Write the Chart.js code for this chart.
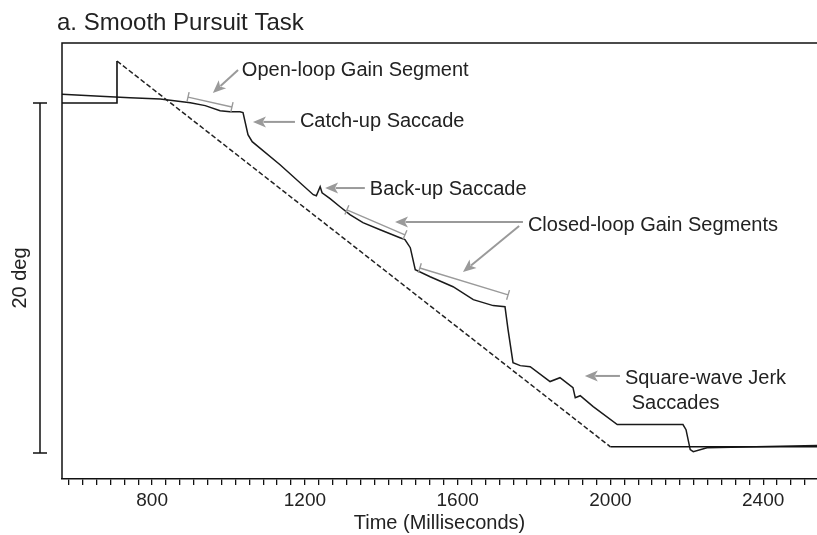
<!DOCTYPE html>
<html>
<head>
<meta charset="utf-8">
<script src="https://cdn.jsdelivr.net/npm/chart.js@4"></script>
<style>
  html, body { margin: 0; padding: 0; background: #fff; }
  #wrap { width: 817px; height: 535px; }
</style>
</head>
<body>
<div id="wrap"><canvas id="pursuit-chart" width="817" height="535"></canvas></div>
<script>
// ~~~~~~~~~~~~~~~~~~~~~~~~~~~~~~~~~~~~~~~~~~~~~~~~~~~~~~~~~~~~~~~~~~~~~~
// DATA (time in ms, position in deg)
const eyeTime = [564, 664, 742, 821, 900, 939, 978, 1004, 1030, 1038, 1051, 1062, 1135, 1222, 1230, 1240, 1245, 1266, 1292, 1318, 1352, 1397, 1449, 1462, 1476, 1489, 1528, 1588, 1641, 1693, 1724, 1732, 1745, 1764, 1790, 1842, 1868, 1902, 1908, 1921, 1955, 2018, 2190, 2198, 2209, 2217, 2253, 2541];
const eyePos = [20.5, 20.38, 20.3, 20.23, 20.02, 19.85, 19.56, 19.5, 19.5, 19.45, 18.19, 17.79, 16.47, 14.76, 14.7, 15.22, 14.87, 14.53, 14.07, 13.62, 13.16, 12.76, 12.3, 12.19, 11.73, 10.47, 10.07, 9.5, 8.76, 8.42, 8.36, 7.05, 5.16, 4.99, 4.93, 4.08, 4.3, 3.73, 3.16, 3.27, 2.65, 1.62, 1.62, 1.33, 0.19, 0.07, 0.3, 0.42];

// target: step, ramp (dashed), hold
const stepTime = [564, 708, 708];
const stepPos = [20, 20, 22.4];
const rampTime = [708, 2000];
const rampPos = [22.4, 0.35];
const holdTime = [2000, 2541];
const holdPos = [0.35, 0.35];

// gain segments [t0, p0, t1, p1]
const openLoopSeg = [894, 20.34, 1009, 19.77];
const closedLoopSegs = [[1310, 13.89, 1462, 12.46], [1501, 10.57, 1732, 9.03]];

// x axis
const tickLabels = [800, 1200, 1600, 2000, 2400];
const minorPerMajor = 11;
const xMin = 564, xMax = 2541;
const yMin = -1.49, yMax = 23.43;
const scaleBarDeg = [0, 20];

//~~~~~~~~~~~~~~~~~~~~~~~~~~~~~~~~~~~~~~~~~~~~~~~~~~~~~~~~~~~~~~~~~~~~~~~
const pts = (xs, ys) => xs.map((x, i) => ({ x: x, y: ys[i] }));
const FONT = "'Liberation Sans', Arial, sans-serif";
const INK = "#222";
const GREY = "#9a9a9a";

// annotations in data units
const arrows = [
  [1025, 21.89, 959, 20.57],
  [1174, 18.92, 1064, 18.92],
  [1357, 15.14, 1253, 15.14],
  [1771, 13.2, 1436, 13.2],
  [1761, 12.97, 1614, 10.34],
  [2025, 4.4, 1933, 4.4],
];
const labels = [
  ["Open-loop Gain Segment", 1035, 21.54],
  ["Catch-up Saccade", 1187, 18.63],
  ["Back-up Saccade", 1370, 14.74],
  ["Closed-loop Gain Segments", 1784, 12.69],
  ["Square-wave Jerk", 2038, 3.94],
  ["Saccades", 2056, 2.52],
];

const drawArrow = (ctx, x0, y0, x1, y1) => {
  const a = Math.atan2(y1 - y0, x1 - x0);
  const len = 13, hw = 5.5;
  ctx.strokeStyle = GREY;
  ctx.fillStyle = GREY;
  ctx.lineWidth = 2;
  ctx.beginPath();
  ctx.moveTo(x0, y0);
  ctx.lineTo(x1 - Math.cos(a) * len * 0.8, y1 - Math.sin(a) * len * 0.8);
  ctx.stroke();
  ctx.beginPath();
  ctx.moveTo(x1, y1);
  ctx.lineTo(x1 - Math.cos(a) * len - Math.sin(a) * hw, y1 - Math.sin(a) * len + Math.cos(a) * hw);
  ctx.lineTo(x1 - Math.cos(a) * len * 0.75, y1 - Math.sin(a) * len * 0.75);
  ctx.lineTo(x1 - Math.cos(a) * len + Math.sin(a) * hw, y1 - Math.sin(a) * len - Math.cos(a) * hw);
  ctx.closePath();
  ctx.fill();
};

const drawSegment = (ctx, x0, y0, x1, y1) => {
  const a = Math.atan2(y1 - y0, x1 - x0);
  const nx = -Math.sin(a) * 5, ny = Math.cos(a) * 5;
  ctx.strokeStyle = GREY;
  ctx.lineWidth = 1.4;
  ctx.beginPath();
  ctx.moveTo(x0, y0);
  ctx.lineTo(x1, y1);
  ctx.moveTo(x0 - nx, y0 - ny);
  ctx.lineTo(x0 + nx, y0 + ny);
  ctx.moveTo(x1 - nx, y1 - ny);
  ctx.lineTo(x1 + nx, y1 + ny);
  ctx.stroke();
};

const decorations = {
  id: "decorations",
  afterDraw(chart) {
    const ctx = chart.ctx;
    const X = (v) => chart.scales.x.getPixelForValue(v);
    const Y = (v) => chart.scales.y.getPixelForValue(v);
    const area = chart.chartArea;
    ctx.save();

    // frame: top and left
    ctx.strokeStyle = "#111";
    ctx.lineWidth = 1.5;
    ctx.beginPath();
    ctx.moveTo(area.left, area.bottom);
    ctx.lineTo(area.left, area.top);
    ctx.lineTo(area.right, area.top);
    ctx.stroke();

    // scale bar
    const bx = 40;
    const b0 = Y(scaleBarDeg[0]), b1 = Y(scaleBarDeg[1]);
    ctx.beginPath();
    ctx.moveTo(bx, b0);
    ctx.lineTo(bx, b1);
    ctx.moveTo(bx - 7, b0);
    ctx.lineTo(bx + 7, b0);
    ctx.moveTo(bx - 7, b1);
    ctx.lineTo(bx + 7, b1);
    ctx.stroke();

    ctx.fillStyle = INK;
    ctx.font = "20px " + FONT;
    ctx.save();
    ctx.translate(20, (b0 + b1) / 2);
    ctx.rotate(-Math.PI / 2);
    ctx.textAlign = "center";
    ctx.textBaseline = "middle";
    ctx.fillText("20 deg", 0, 0);
    ctx.restore();

    // title
    ctx.font = "24px " + FONT;
    ctx.textAlign = "left";
    ctx.textBaseline = "alphabetic";
    ctx.fillText("a. Smooth Pursuit Task", 57, 30);

    // gain segments
    drawSegment(ctx, X(openLoopSeg[0]), Y(openLoopSeg[1]), X(openLoopSeg[2]), Y(openLoopSeg[3]));
    closedLoopSegs.forEach((s) => drawSegment(ctx, X(s[0]), Y(s[1]), X(s[2]), Y(s[3])));

    // arrows
    arrows.forEach((a) => drawArrow(ctx, X(a[0]), Y(a[1]), X(a[2]), Y(a[3])));

    // annotation text
    ctx.fillStyle = INK;
    ctx.font = "20px " + FONT;
    labels.forEach((l) => ctx.fillText(l[0], X(l[1]), Y(l[2])));

    ctx.restore();
  },
};

Chart.defaults.font.family = FONT;
Chart.defaults.color = INK;

let chartElement = document.getElementById("pursuit-chart");
let config = {
  type: "line",
  data: {
    datasets: [
      {
        label: "Target step",
        data: pts(stepTime, stepPos),
        borderColor: "#111",
        borderWidth: 1.6,
      },
      {
        label: "Target ramp",
        data: pts(rampTime, rampPos),
        borderColor: "#222",
        borderWidth: 1.5,
        borderDash: [5, 2.5],
      },
      {
        label: "Target hold",
        data: pts(holdTime, holdPos),
        borderColor: "#111",
        borderWidth: 1.6,
      },
      {
        label: "Eye",
        data: pts(eyeTime, eyePos),
        borderColor: "#1a1a1a",
        borderWidth: 1.5,
      },
    ],
  },
  options: {
    responsive: false,
    animation: false,
    elements: { point: { radius: 0 }, line: { tension: 0 } },
    layout: { padding: { left: 62, top: 43, right: 0, bottom: 0 } },
    plugins: { legend: { display: false }, tooltip: { enabled: false } },
    scales: {
      x: {
        type: "linear",
        min: xMin,
        max: xMax,
        afterFit: (s) => {
          s.height = 56;
        },
        afterBuildTicks: (s) => {
          const step = 400 / minorPerMajor;
          const vals = [];
          for (let k = -20; k < 80; k++) {
            const v = tickLabels[0] + k * step;
            if (v > xMin + 1 && v < xMax) vals.push({ value: v });
          }
          s.ticks = vals;
        },
        border: { display: true, color: "#111", width: 1.5 },
        grid: {
          drawOnChartArea: false,
          drawTicks: true,
          tickLength: 6,
          tickColor: "#111",
          lineWidth: 1.3,
        },
        ticks: {
          autoSkip: false,
          maxRotation: 0,
          padding: 4,
          color: INK,
          font: { size: 19 },
          callback: (value) => {
            const r = Math.round(value);
            return tickLabels.includes(r) && Math.abs(value - r) < 1e-6 ? String(r) : "";
          },
        },
        title: {
          display: true,
          text: "Time (Milliseconds)",
          color: INK,
          font: { size: 20 },
          padding: { top: 0, bottom: 0 },
        },
      },
      y: {
        type: "linear",
        display: false,
        min: yMin,
        max: yMax,
      },
    },
  },
  plugins: [decorations],
};
let pursuitChart = new Chart(chartElement, config);
</script>
</body>
</html>
